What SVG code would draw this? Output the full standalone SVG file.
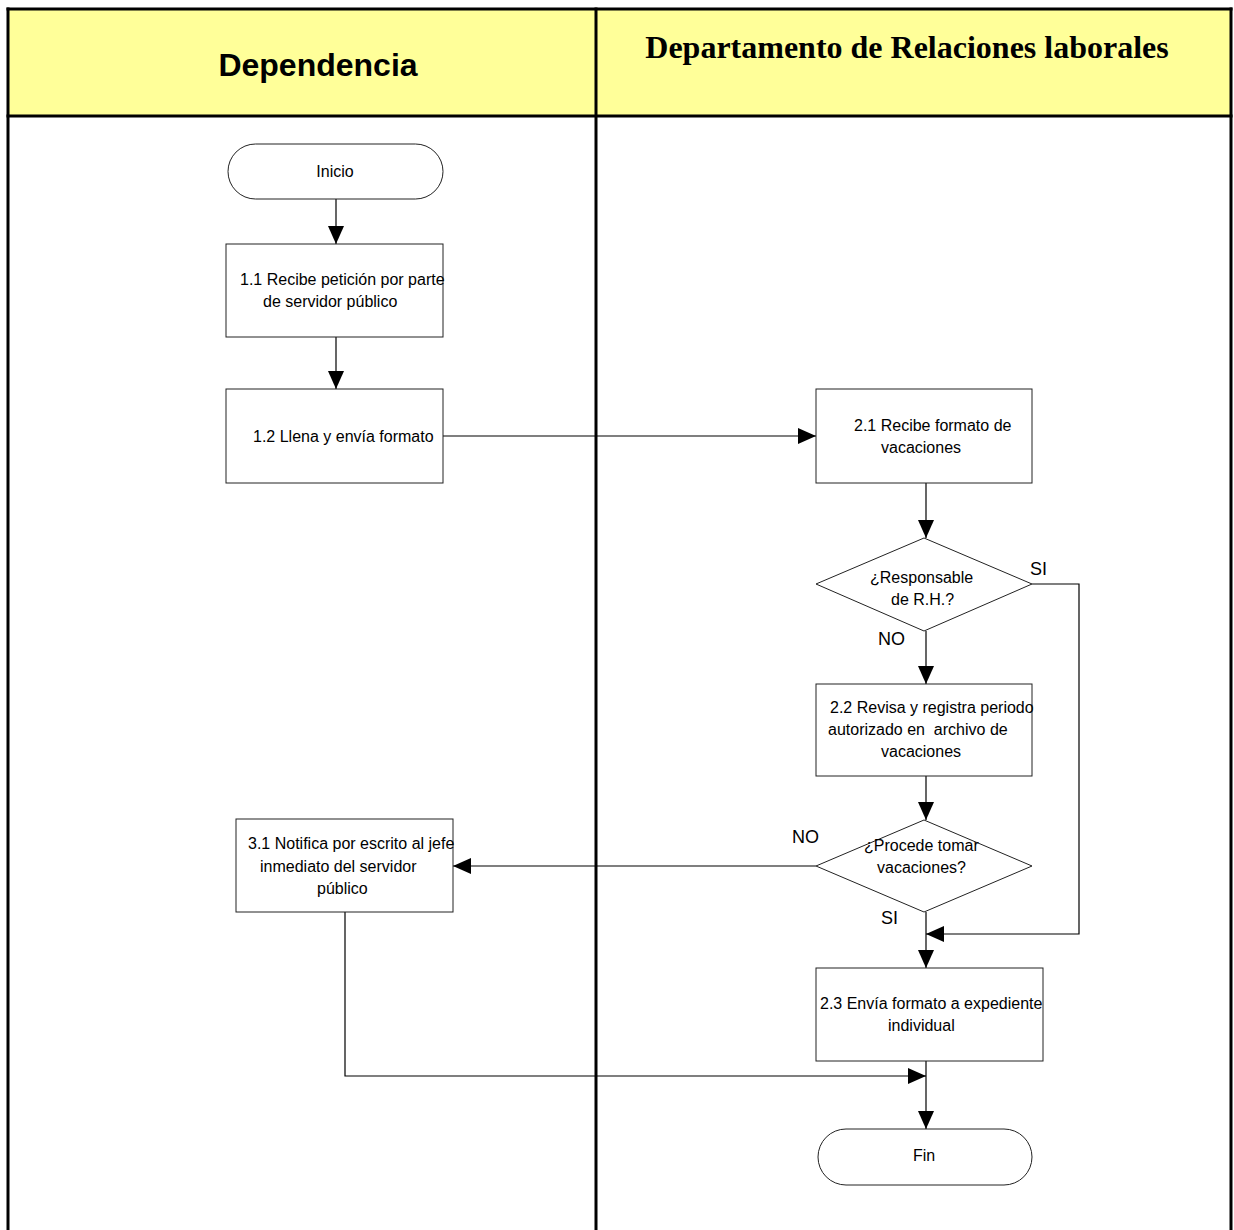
<svg xmlns="http://www.w3.org/2000/svg" width="1234" height="1230" viewBox="0 0 1234 1230">
  <defs>
    <marker id="arrow" markerWidth="18" markerHeight="16" refX="18" refY="8" orient="auto" markerUnits="userSpaceOnUse">
      <path d="M0,0 L18,8 L0,16 Z" fill="#000"/>
    </marker>
  </defs>
  <style>
    .lane { fill: none; stroke: #000; stroke-width: 3; }
    .box { fill: #fff; stroke: #222; stroke-width: 1; }
    .conn { fill: none; stroke: #000; stroke-width: 1.2; }
    .lbl { font-family: "Liberation Sans", Arial, sans-serif; font-size: 16px; fill: #000; }
    .mid { text-anchor: middle; }
    .tag { font-family: "Liberation Sans", Arial, sans-serif; font-size: 18px; fill: #000; }
  </style>

  <rect width="1234" height="1230" fill="#fff"/>

  <!-- swimlane header band and lane borders -->
  <g id="lanes">
    <rect x="8" y="9" width="1223" height="107" fill="#ffff99"/>
    <line class="lane" x1="6.5" y1="9" x2="1232.5" y2="9"/>
    <line class="lane" x1="6.5" y1="116" x2="1232.5" y2="116"/>
    <line class="lane" x1="8" y1="7.5" x2="8" y2="1230"/>
    <line class="lane" x1="596" y1="7.5" x2="596" y2="1230"/>
    <line class="lane" x1="1231" y1="7.5" x2="1231" y2="1230"/>
    <text x="318" y="76" text-anchor="middle" font-family="Liberation Sans, Arial, sans-serif" font-weight="bold" font-size="32px">Dependencia</text>
    <text x="907" y="58" text-anchor="middle" font-family="Liberation Serif, Times New Roman, serif" font-weight="bold" font-size="32px">Departamento de Relaciones laborales</text>
  </g>

  <!-- connectors -->
  <g id="connectors">
    <line class="conn" x1="336" y1="199" x2="336" y2="244" marker-end="url(#arrow)"/>
    <line class="conn" x1="336" y1="337" x2="336" y2="389" marker-end="url(#arrow)"/>
    <line class="conn" x1="443" y1="436" x2="816" y2="436" marker-end="url(#arrow)"/>
    <line class="conn" x1="926" y1="483" x2="926" y2="538" marker-end="url(#arrow)"/>
    <line class="conn" x1="926" y1="631" x2="926" y2="684" marker-end="url(#arrow)"/>
    <polyline class="conn" points="1032,584 1079,584 1079,934 926,934" marker-end="url(#arrow)"/>
    <line class="conn" x1="926" y1="776" x2="926" y2="820" marker-end="url(#arrow)"/>
    <line class="conn" x1="816" y1="866" x2="453" y2="866" marker-end="url(#arrow)"/>
    <line class="conn" x1="926" y1="912" x2="926" y2="968" marker-end="url(#arrow)"/>
    <polyline class="conn" points="345,912 345,1076 926,1076" marker-end="url(#arrow)"/>
    <line class="conn" x1="926" y1="1061" x2="926" y2="1129" marker-end="url(#arrow)"/>
    <text class="tag" x="1030" y="575">SI</text>
    <text class="tag" x="878" y="645">NO</text>
    <text class="tag" x="792" y="843">NO</text>
    <text class="tag" x="881" y="924">SI</text>
  </g>

  <g id="inicio">
    <rect class="box" x="228" y="144" width="215" height="55" rx="27.5" ry="27.5"/>
    <text class="lbl mid" x="335" y="177">Inicio</text>
  </g>

  <g id="n1-1">
    <rect class="box" x="226" y="244" width="217" height="93"/>
    <text class="lbl" x="240" y="285">1.1 Recibe petición por parte</text>
    <text class="lbl" x="263" y="307">de servidor público</text>
  </g>

  <g id="n1-2">
    <rect class="box" x="226" y="389" width="217" height="94"/>
    <text class="lbl" x="253" y="442">1.2 Llena y envía formato</text>
  </g>

  <g id="n2-1">
    <rect class="box" x="816" y="389" width="216" height="94"/>
    <text class="lbl" x="854" y="431">2.1 Recibe formato de</text>
    <text class="lbl" x="881" y="453">vacaciones</text>
  </g>

  <g id="d1">
    <polygon class="box" points="924,538 1032,584 924,631 816,584"/>
    <text class="lbl" x="870" y="583">¿Responsable</text>
    <text class="lbl" x="891" y="605">de R.H.?</text>
  </g>

  <g id="n2-2">
    <rect class="box" x="816" y="684" width="216" height="92"/>
    <text class="lbl" x="830" y="713">2.2 Revisa y registra periodo</text>
    <text class="lbl" x="828" y="735" xml:space="preserve">autorizado en  archivo de</text>
    <text class="lbl" x="881" y="757">vacaciones</text>
  </g>

  <g id="d2">
    <polygon class="box" points="924,820 1032,866 924,912 816,866"/>
    <text class="lbl" x="864" y="851">¿Procede tomar</text>
    <text class="lbl" x="877" y="873">vacaciones?</text>
  </g>

  <g id="n3-1">
    <rect class="box" x="236" y="819" width="217" height="93"/>
    <text class="lbl" x="248" y="849">3.1 Notifica por escrito al jefe</text>
    <text class="lbl" x="260" y="872">inmediato del servidor</text>
    <text class="lbl" x="317" y="894">público</text>
  </g>

  <g id="n2-3">
    <rect class="box" x="816" y="968" width="227" height="93"/>
    <text class="lbl" x="820" y="1009">2.3 Envía formato a expediente</text>
    <text class="lbl" x="888" y="1031">individual</text>
  </g>

  <g id="fin">
    <rect class="box" x="818" y="1129" width="214" height="56" rx="28" ry="28"/>
    <text class="lbl mid" x="924" y="1161">Fin</text>
  </g>
</svg>
